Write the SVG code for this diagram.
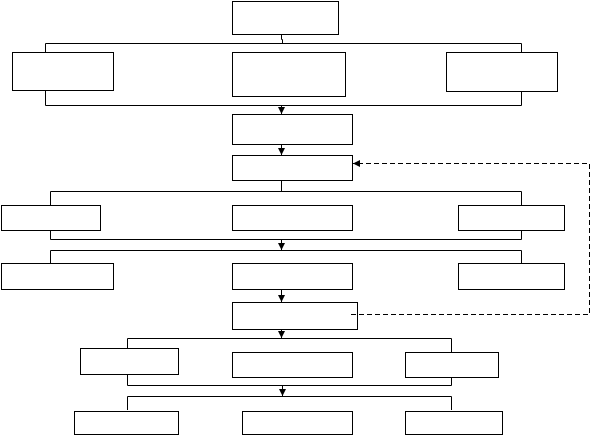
<svg xmlns="http://www.w3.org/2000/svg" width="591" height="435" viewBox="0 0 591 435">
<style>
.n{fill:#fff;stroke:#000;stroke-width:1}
.c{fill:none;stroke:#000;stroke-width:1}
.a{marker-end:url(#ah)}
.d{stroke-dasharray:5,3}
</style>
<defs>
<marker id="ah" markerUnits="userSpaceOnUse" markerWidth="8" markerHeight="8" refX="7" refY="4" orient="auto">
<path d="M0,0.5 L7,4 L0,7.5 Z" fill="#000"/>
</marker>
</defs>
<rect width="591" height="435" fill="#fff"/>
<g id="connectors">
<path class="c" d="M281.5 34.5 V39.5 H282.5 V43.5"/>
<path class="c" d="M45.5 52.5 V43.5 H521.5 V52.5"/>
<path class="c" d="M45.5 90.5 V105.5 H521.5 V91.5"/>
<path class="c a" d="M281.5 105.5 V114"/>
<path class="c a" d="M281.5 144.5 V155"/>
<path class="c" d="M281.5 180.5 V191.5"/>
<path class="c" d="M50.5 205.5 V191.5 H521.5 V205.5"/>
<path class="c" d="M50.5 230.5 V239.5 H521.5 V230.5"/>
<path class="c a" d="M281.5 239.5 V250"/>
<path class="c" d="M50.5 263.5 V250.5 H521.5 V263.5"/>
<path class="c a" d="M281.5 289.5 V302"/>
<path class="c a" d="M281.5 329.5 V338"/>
<path class="c" d="M127.5 348.5 V338.5 H451.5 V352.5"/>
<path class="c" d="M127.5 374.5 V385.5 H451.5 V377.5"/>
<path class="c a" d="M282.5 385.5 V396"/>
<path class="c" d="M127.5 410 V396.5 H451.5 V410"/>
<path class="c d a" d="M351 314.5 H589.5 V163.5 H353"/>
</g>
<g id="n1"><rect class="n" x="232.5" y="1.5" width="106" height="33"/></g>
<g id="n2"><rect class="n" x="12.5" y="52.5" width="101" height="38"/></g>
<g id="n3"><rect class="n" x="232.5" y="52.5" width="113" height="44"/></g>
<g id="n4"><rect class="n" x="446.5" y="52.5" width="111" height="39"/></g>
<g id="n5"><rect class="n" x="232.5" y="114.5" width="120" height="30"/></g>
<g id="n6"><rect class="n" x="232.5" y="155.5" width="120" height="25"/></g>
<g id="n7"><rect class="n" x="1.5" y="205.5" width="99" height="25"/></g>
<g id="n8"><rect class="n" x="232.5" y="205.5" width="120" height="25"/></g>
<g id="n9"><rect class="n" x="458.5" y="205.5" width="106" height="25"/></g>
<g id="n10"><rect class="n" x="1.5" y="263.5" width="112" height="26"/></g>
<g id="n11"><rect class="n" x="232.5" y="263.5" width="120" height="26"/></g>
<g id="n12"><rect class="n" x="458.5" y="263.5" width="106" height="26"/></g>
<g id="n13"><rect class="n" x="232.5" y="302.5" width="125" height="27" fill-opacity="0"/></g>
<g id="n14"><rect class="n" x="80.5" y="348.5" width="98" height="26"/></g>
<g id="n15"><rect class="n" x="232.5" y="352.5" width="120" height="25"/></g>
<g id="n16"><rect class="n" x="405.5" y="352.5" width="93" height="25"/></g>
<g id="n17"><rect class="n" x="74.5" y="411.5" width="104" height="23"/></g>
<g id="n18"><rect class="n" x="242.5" y="411.5" width="110" height="23"/></g>
<g id="n19"><rect class="n" x="405.5" y="411.5" width="97" height="23"/></g>
</svg>
